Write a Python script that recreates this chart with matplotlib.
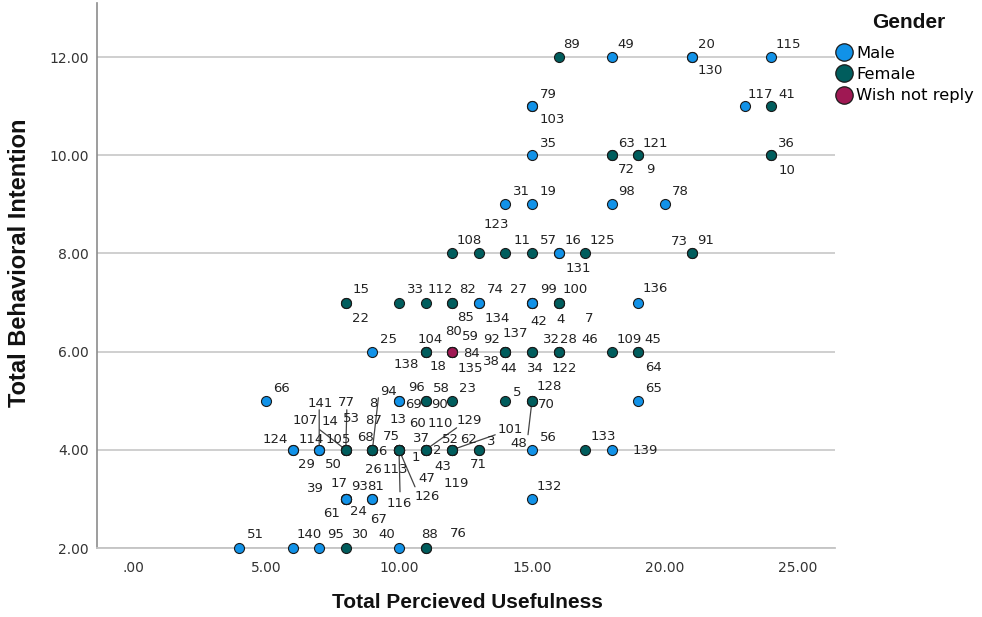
import matplotlib
matplotlib.use("Agg")
import matplotlib.pyplot as plt
from matplotlib.lines import Line2D

# ---------------- data ----------------
case_id = [89, 49, 20, 130, 115,
           79, 103, 117, 41,
           35, 63, 72, 121, 9, 36, 10,
           31, 19, 98, 78,
           108, 123, 11, 57, 16, 131, 125, 73, 91,
           15, 22, 33, 112, 82, 85, 74, 134, 27, 99, 42, 100, 4, 7, 136,
           25, 104, 138, 18, 80, 59, 84, 135, 92, 38, 137, 44, 32, 34, 28, 46, 122, 109, 45, 64,
           66, 96, 69, 58, 90, 23, 5, 128, 70, 48, 65,
           124, 29, 114, 141, 50, 105, 107, 14, 77, 53, 68, 87, 8, 94, 6, 26,
           75, 13, 37, 1, 113, 116, 126, 47, 60, 110, 129, 2, 43, 52, 62, 101, 119,
           3, 71, 56, 133, 139,
           39, 17, 93, 61, 24, 81, 67, 132,
           51, 140, 95, 30, 40, 88, 76]

usefulness = [16, 18, 21, 21, 24,
              15, 15, 23, 24,
              15, 18, 18, 19, 19, 24, 24,
              14, 15, 18, 20,
              12, 13, 14, 15, 16, 16, 17, 21, 21,
              8, 8, 10, 11, 12, 12, 13, 13, 15, 15, 15, 16, 16, 16, 19,
              9, 11, 11, 11, 12, 12, 12, 12, 14, 14, 14, 14, 15, 15, 16, 16, 16, 18, 19, 19,
              5, 10, 10, 11, 11, 12, 14, 15, 15, 15, 19,
              6, 6, 7, 7, 7, 8, 8, 8, 8, 8, 9, 9, 9, 9, 9, 9,
              10, 10, 10, 10, 10, 10, 10, 10, 11, 11, 11, 11, 11, 12, 12, 12, 12,
              13, 13, 15, 17, 18,
              8, 8, 8, 8, 8, 9, 9, 15,
              4, 6, 7, 8, 10, 11, 11]

intention = [12, 12, 12, 12, 12,
             11, 11, 11, 11,
             10, 10, 10, 10, 10, 10, 10,
             9, 9, 9, 9,
             8, 8, 8, 8, 8, 8, 8, 8, 8,
             7, 7, 7, 7, 7, 7, 7, 7, 7, 7, 7, 7, 7, 7, 7,
             6, 6, 6, 6, 6, 6, 6, 6, 6, 6, 6, 6, 6, 6, 6, 6, 6, 6, 6, 6,
             5, 5, 5, 5, 5, 5, 5, 5, 5, 5, 5,
             4, 4, 4, 4, 4, 4, 4, 4, 4, 4, 4, 4, 4, 4, 4, 4,
             4, 4, 4, 4, 4, 4, 4, 4, 4, 4, 4, 4, 4, 4, 4, 4, 4,
             4, 4, 4, 4, 4,
             3, 3, 3, 3, 3, 3, 3, 3,
             2, 2, 2, 2, 2, 2, 2]

gender = ["F", "M", "M", "M", "M",
          "M", "M", "M", "F",
          "M", "F", "F", "F", "F", "F", "F",
          "M", "M", "M", "M",
          "F", "F", "F", "F", "M", "M", "F", "F", "F",
          "F", "F", "F", "F", "F", "F", "M", "M", "M", "M", "M", "F", "F", "F", "M",
          "M", "F", "F", "F", "F", "F", "W", "F", "F", "F", "F", "F", "F", "F", "F", "F", "F", "F", "F", "F",
          "M", "M", "M", "F", "F", "F", "F", "F", "F", "F", "M",
          "M", "M", "M", "M", "M", "F", "F", "F", "F", "F", "F", "F", "F", "F", "F", "F",
          "F", "F", "F", "F", "F", "F", "F", "F", "F", "F", "F", "F", "F", "F", "F", "F", "F",
          "F", "F", "M", "F", "M",
          "M", "M", "M", "M", "M", "M", "M", "M",
          "M", "M", "M", "F", "M", "F", "F"]

gender_names = {"M": "Male", "F": "Female", "W": "Wish not reply"}
x_ticks = [0, 5, 10, 15, 20, 25]
x_ticklabels = [".00", "5.00", "10.00", "15.00", "20.00", "25.00"]
y_ticks = [2, 4, 6, 8, 10, 12]
y_ticklabels = ["2.00", "4.00", "6.00", "8.00", "10.00", "12.00"]

# ---------------- layout (label placement in pixels) ----------------
label_offset = {
    89: (5, 14), 49: (6, 14), 20: (6, 14), 130: (6, -12), 115: (4, 14),
    79: (8, 13), 103: (8, -12), 117: (3, 13), 41: (7, 13),
    35: (8, 13), 63: (6, 13), 72: (6, -13), 121: (4, 13), 9: (8, -13), 36: (7, 13), 10: (7, -14),
    31: (8, 14), 19: (8, 14), 98: (6, 14), 78: (7, 14),
    108: (4, 14), 123: (5, 30), 11: (8, 14), 57: (8, 14), 16: (6, 14), 131: (7, -14),
    125: (4, 14), 73: (-21, 13), 91: (6, 14),
    15: (7, 15), 22: (6, -14), 33: (8, 15), 112: (2, 15), 82: (7, 15), 85: (5, -13),
    74: (8, 15), 134: (6, -14), 27: (-22, 15), 99: (8, 15), 42: (-2, -17), 100: (4, 15),
    4: (-2, -15), 7: (26, -14), 136: (4, 16),
    25: (8, 14), 104: (-8, 14), 138: (-32, -11), 18: (4, -13), 80: (-7, 22), 59: (10, 17),
    84: (11, 0), 135: (5, -15), 92: (-22, 14), 38: (-22, -8), 137: (-3, 20), 44: (-5, -15),
    32: (11, 14), 34: (-5, -15), 28: (1, 14), 46: (23, 14), 122: (-7, -15), 109: (5, 14),
    45: (6, 14), 64: (7, -14),
    66: (7, 14), 96: (9, 15), 69: (6, -2), 58: (7, 14), 90: (6, -2), 23: (7, 14), 5: (8, 10),
    128: (5, 16), 70: (6, -2), 48: (-22, -41), 65: (7, 14),
    124: (-30, 12), 29: (5, -13), 114: (-21, 12), 141: (-12, 48), 50: (6, -13),
    105: (-20, 12), 107: (-53, 31), 14: (-24, 30), 77: (-8, 49), 53: (-3, 33),
    68: (-15, 14), 87: (-7, 31), 8: (-3, 48), 94: (8, 60), 6: (6, 0), 26: (-7, -18),
    75: (-16, 15), 13: (-9, 32), 37: (14, 13), 1: (13, -6), 113: (-16, -18), 116: (-12, -52),
    126: (16, -45), 47: (19, -27),
    60: (-16, 28), 110: (2, 28), 129: (31, 31), 2: (7, 1), 43: (9, -15),
    52: (-10, 12), 62: (8, 12), 101: (45, 22), 119: (-9, -32),
    3: (8, 10), 71: (-9, -13), 56: (8, 14), 133: (5, 15), 139: (21, 1),
    39: (-39, 12), 17: (-15, 17), 93: (5, 14), 61: (-23, -13), 24: (4, -11), 81: (-5, 14),
    67: (-2, -19), 132: (5, 14),
    51: (8, 15), 140: (4, 15), 95: (8, 15), 30: (6, 15), 40: (-21, 15), 88: (-4, 15), 76: (24, 16),
}
leader_start = {141: (0, 40), 107: (-26, 20), 77: (1, 40), 94: (6, 52), 116: (1, -42),
                126: (16, -37), 129: (31, 22), 101: (43, 15), 48: (-4, -34)}

colors = {"M": "#1192e8", "F": "#005d5d", "W": "#9f1853"}

# ---------------- figure ----------------
W, H = 982, 617
fig = plt.figure(figsize=(W / 100, H / 100), dpi=100)
ax = fig.add_axes([97 / W, 1 - 548 / H, (835 - 97) / W, (548 - 3) / H])
ax.set_xlim(-1.353, 26.39)
ax.set_ylim(2, 13.1)

ax.set_yticks(y_ticks)
ax.set_yticklabels(y_ticklabels)
ax.set_xticks(x_ticks)
ax.set_xticklabels(x_ticklabels)
ax.tick_params(axis="both", length=0, labelsize=10, labelcolor="#333333",
               labelfontfamily="DejaVu Sans")
ax.tick_params(axis="y", pad=6)
ax.tick_params(axis="x", pad=9)
ax.yaxis.grid(True, color="#cccccc", lw=1.3, zorder=0)
ax.set_axisbelow(True)
for s in ("top", "right"):
    ax.spines[s].set_visible(False)
ax.spines["left"].set_color("#8c8c8c")
ax.spines["left"].set_linewidth(1.2)
ax.spines["bottom"].set_color("#c4c4c4")
ax.spines["bottom"].set_linewidth(1.3)

# points, drawn group by group so that the later group sits on top
for g in ("M", "F", "W"):
    xs = [x for x, gg in zip(usefulness, gender) if gg == g]
    ys = [y for y, gg in zip(intention, gender) if gg == g]
    ax.scatter(xs, ys, s=52, color=colors[g], edgecolor="#1a1a1a", linewidth=0.8,
               zorder=5, clip_on=False)

# leader lines
for cid, x, y in zip(case_id, usefulness, intention):
    if cid in leader_start:
        ax.annotate("", xy=(x, y), xytext=leader_start[cid], textcoords="offset pixels",
                    arrowprops=dict(arrowstyle="-", color="#444444", lw=0.9,
                                    shrinkA=0, shrinkB=0), zorder=2)

# case labels
for cid, x, y in zip(case_id, usefulness, intention):
    dx, dy = label_offset[cid]
    ax.annotate(str(cid), xy=(x, y), xytext=(dx, dy - 5), textcoords="offset pixels",
                ha="left", va="baseline", fontsize=9.5, family="DejaVu Sans",
                color="#222222", zorder=3, annotation_clip=False)

# axis titles
fig.text(467 / W, 1 - 603 / H, "Total Percieved Usefulness", ha="center", va="center",
         fontsize=15, fontweight="bold", family="Liberation Sans", color="#111111")
fig.text(20 / W, 1 - 263 / H, "Total Behavioral Intention", ha="center", va="center",
         rotation=90, fontsize=17, fontweight="bold", family="Liberation Sans", color="#111111")

# legend
handles = [Line2D([], [], ls="none", marker="o", markersize=12.5, markerfacecolor=colors[g],
                  markeredgecolor="#1a1a1a", markeredgewidth=0.9) for g in ("M", "F", "W")]
leg = fig.legend(handles, [gender_names[g] for g in ("M", "F", "W")],
                 loc="upper left", bbox_to_anchor=(836 / W, 1 - 46 / H),
                 frameon=False,
                 prop={"family": "DejaVu Sans", "size": 11.8},
                 handletextpad=0.25, handlelength=1.0, labelspacing=0.38,
                 borderpad=0, borderaxespad=0)
fig.text(909 / W, 1 - 23 / H, "Gender", ha="center", va="center",
         fontsize=15, fontweight="bold", family="Liberation Sans", color="#111111")

fig.savefig("out.png", dpi=100)
